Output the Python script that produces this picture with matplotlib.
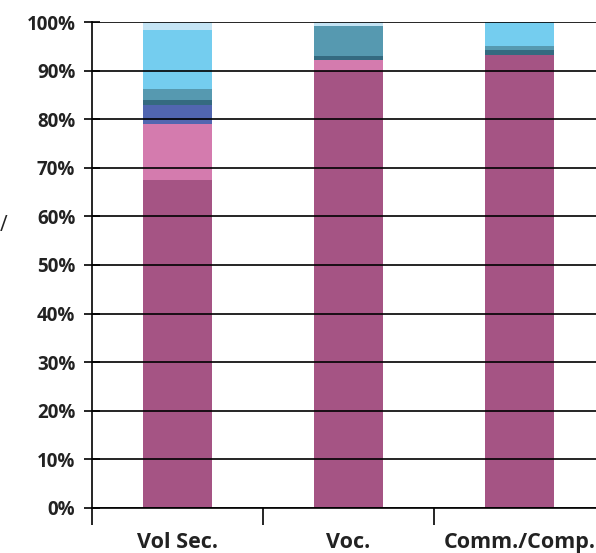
import numpy as np
import matplotlib
matplotlib.use("Agg")
import matplotlib.pyplot as plt
from matplotlib.ticker import FixedLocator, PercentFormatter

# Share of each component per programme type (bottom to top), in %
categories = ["Vol Sec.", "Voc.", "Comm./Comp."]
seg_magenta = [67.4, 89.9, 93.2]
seg_pink = [11.7, 2.3, 0.0]
seg_blue = [3.8, 0.0, 0.0]
seg_darkteal = [1.0, 0.9, 1.1]
seg_teal = [2.3, 6.0, 0.8]
seg_sky = [12.1, 0.0, 4.9]
seg_pale = [1.7, 0.9, 0.0]

series = [seg_magenta, seg_pink, seg_blue, seg_darkteal, seg_teal, seg_sky, seg_pale]
colors = ["#A55484", "#D47BAE", "#5166B0", "#346A80", "#5699B0", "#74CDEF", "#C4E4F4"]

plt.rcParams["font.family"] = ["Open Sans", "DejaVu Sans"]

fig = plt.figure(figsize=(5.96, 5.53), dpi=100)
ax = fig.add_axes([0.1544, 0.0814, 0.8607, 0.8788])

x = np.arange(len(categories))
bottom = np.zeros(len(categories))
for vals, col in zip(series, colors):
    ax.bar(x, vals, width=0.4, bottom=bottom, color=col, linewidth=0, zorder=1)
    bottom += np.asarray(vals)

ax.set_xlim(-0.5, 2.5)
ax.set_ylim(0, 100)

# gridlines drawn over the bars
ax.set_axisbelow(False)
ax.yaxis.set_major_locator(FixedLocator(np.arange(0, 101, 10)))
ax.yaxis.set_major_formatter(PercentFormatter(decimals=0))
ax.grid(axis="y", color="black", linewidth=1.2, zorder=3)

for s in ["top", "right"]:
    ax.spines[s].set_visible(False)
ax.spines["left"].set_linewidth(1.2)
ax.spines["bottom"].set_linewidth(1.2)

ax.tick_params(axis="y", direction="inout", length=12, width=1.2,
               labelsize=13.5, pad=6)
for lbl in ax.get_yticklabels():
    lbl.set_fontweight("bold")
    lbl.set_color("#222222")

# category boundaries as major ticks, labels on minor ticks at bar centres
ax.xaxis.set_major_locator(FixedLocator([-0.5, 0.5, 1.5, 2.5]))
ax.xaxis.set_minor_locator(FixedLocator(x))
ax.tick_params(axis="x", which="major", direction="out", length=12, width=1.2,
               labelbottom=False)
ax.tick_params(axis="x", which="minor", length=0, pad=17, labelsize=15.5)
ax.set_xticks(x, categories, minor=True)
for lbl in ax.get_xticklabels(minor=True):
    lbl.set_fontweight("bold")
    lbl.set_color("#222222")

# fragment of a cut-off axis title on the left edge
fig.text(0.0, 0.593, "/", fontsize=15, color="#222222", va="center", ha="left")

fig.savefig("out.png", dpi=100)
